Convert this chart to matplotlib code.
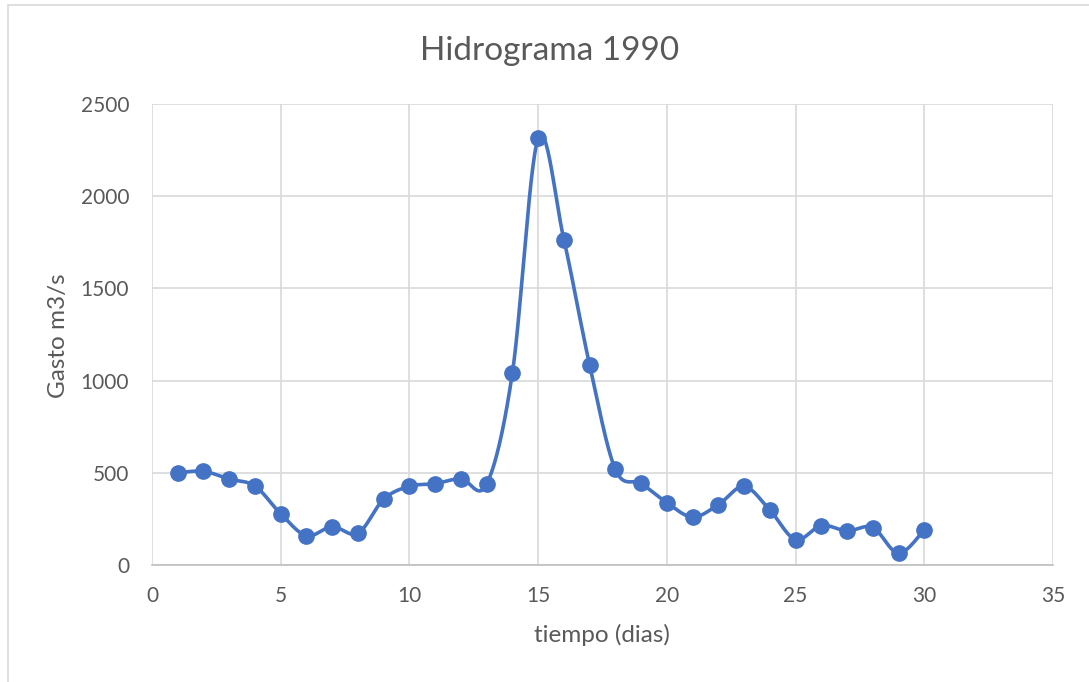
import numpy as np
import matplotlib
matplotlib.use("Agg")
import matplotlib.pyplot as plt
from matplotlib.patches import Rectangle

dias = [1, 2, 3, 4, 5, 6, 7, 8, 9, 10, 11, 12, 13, 14, 15,
        16, 17, 18, 19, 20, 21, 22, 23, 24, 25, 26, 27, 28, 29, 30]
gasto = [500, 508, 466, 428, 278, 159, 208, 172, 357, 427, 441, 468, 438, 1042, 2313,
         1765, 1085, 518, 442, 338, 260, 327, 426, 298, 138, 214, 185, 203, 64, 190]

xticks = [0, 5, 10, 15, 20, 25, 30, 35]
yticks = [0, 500, 1000, 1500, 2000, 2500]

azul = "#4472C4"
gris_txt = "#595959"
gris_grid = "#D9D9D9"


def suavizar(x, y, n=30):
    # curva suavizada tipo Catmull-Rom (como "linea suavizada" de Excel)
    x = np.asarray(x, float)
    y = np.asarray(y, float)
    px = np.concatenate([[x[0]], x, [x[-1]]])
    py = np.concatenate([[y[0]], y, [y[-1]]])
    xs, ys = [], []
    t = np.linspace(0, 1, n)
    for i in range(1, len(px) - 2):
        p0, p1, p2, p3 = px[i - 1], px[i], px[i + 1], px[i + 2]
        q0, q1, q2, q3 = py[i - 1], py[i], py[i + 1], py[i + 2]
        c1x, c1y = p1 + (p2 - p0) / 6, q1 + (q2 - q0) / 6
        c2x, c2y = p2 - (p3 - p1) / 6, q2 - (q3 - q1) / 6
        b0, b1, b2, b3 = (1 - t) ** 3, 3 * t * (1 - t) ** 2, 3 * t ** 2 * (1 - t), t ** 3
        xs.append(b0 * p1 + b1 * c1x + b2 * c2x + b3 * p2)
        ys.append(b0 * q1 + b1 * c1y + b2 * c2y + b3 * q2)
    return np.concatenate(xs), np.concatenate(ys)


plt.rcParams['font.family'] = ['Lato', 'DejaVu Sans']

W, H = 1089, 682
fig = plt.figure(figsize=(W / 100, H / 100), dpi=100)
ax = fig.add_axes([152 / W, 1 - 565 / H, 901 / W, 461 / H])

# borde del area del grafico
fig.patches.append(Rectangle((8 / W, -0.1), 1.2, (1 - 5 / H) + 0.1,
                             transform=fig.transFigure, fill=False,
                             edgecolor="#D9D9D9", linewidth=1.2))

sx, sy = suavizar(dias, gasto)
ax.plot(sx, sy, color=azul, linewidth=2.6, zorder=3)
ax.plot(dias, gasto, linestyle="none", marker="o", markersize=11,
        color=azul, zorder=4)

ax.set_xlim(0, 35)
ax.set_ylim(0, 2500)
ax.set_xticks(xticks)
ax.set_yticks(yticks)
ax.grid(True, color=gris_grid, linewidth=1.2)
ax.set_axisbelow(True)
for s in ["top", "right", "left"]:
    ax.spines[s].set_visible(False)
ax.spines["bottom"].set_color("#BFBFBF")
ax.spines["bottom"].set_linewidth(1.2)
ax.tick_params(length=0, labelsize=15, labelcolor=gris_txt)
ax.tick_params(axis="y", pad=16.5)
ax.tick_params(axis="x", pad=15)

fig.text(550 / W, 1 - 60 / H, "Hidrograma 1990", fontsize=24, color=gris_txt,
         ha="center", va="baseline")
fig.text(602 / W, 1 - 642 / H, "tiempo (dias)", fontsize=17.5, color=gris_txt,
         ha="center", va="baseline")
fig.text(59 / W, 1 - 336 / H, "Gasto m3/s", fontsize=17.5, color=gris_txt,
         ha="center", va="center", rotation=90)

fig.savefig("out.png", dpi=100)
